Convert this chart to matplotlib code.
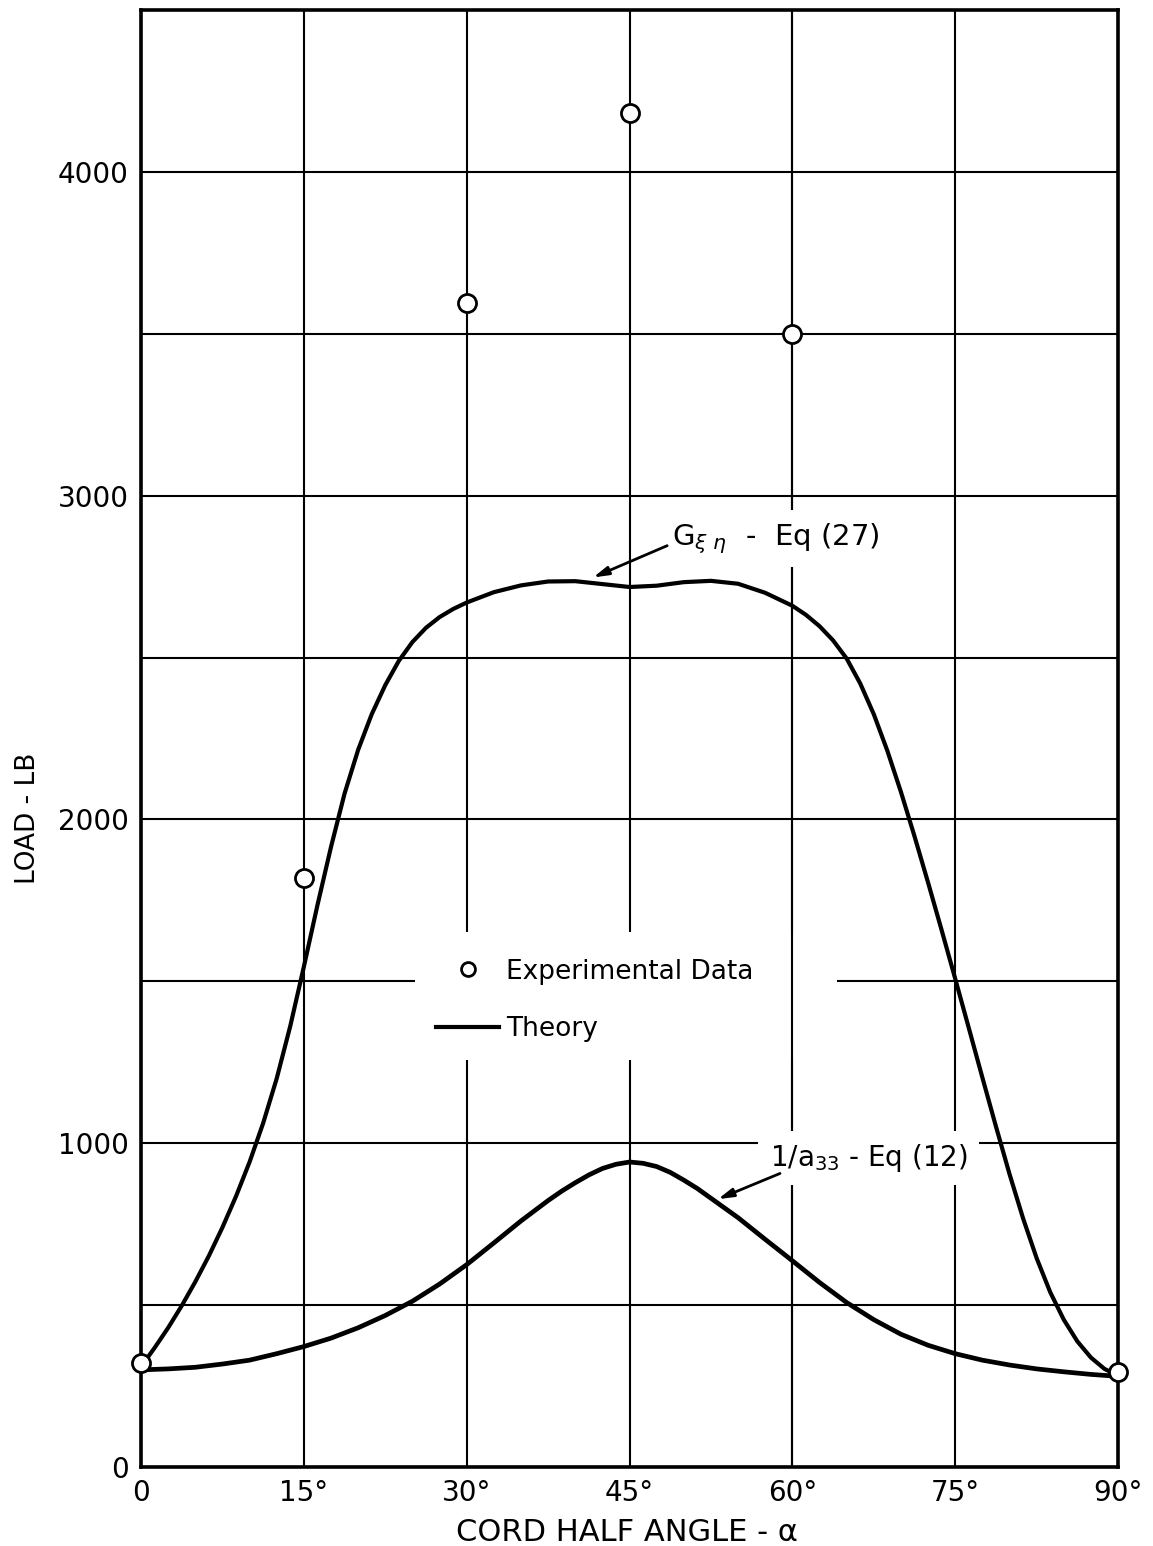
import matplotlib.pyplot as plt
from matplotlib.lines import Line2D
from matplotlib.patches import Rectangle

# G_xi_eta - Eq (27): cord half angle (deg) and load (lb)
g_angle = [0, 1.25, 2.5, 3.75, 5, 6.25, 7.5, 8.75, 10, 11.25, 12.5, 13.75, 15,
           16.25, 17.5, 18.75, 20, 21.25, 22.5, 23.75, 25, 26.25, 27.5, 28.75,
           30, 32.5, 35, 37.5, 40, 42.5, 45, 47.5, 50, 52.5, 55, 57.5, 60,
           61.25, 62.5, 63.75, 65, 66.25, 67.5, 68.75, 70, 71.25, 72.5, 73.75,
           75, 76.25, 77.5, 78.75, 80, 81.25, 82.5, 83.75, 85, 86.25, 87.5,
           88.75, 90]
g_load = [310, 368, 430, 498, 572, 652, 740, 836, 942, 1062, 1200, 1362, 1545,
          1735, 1915, 2080, 2215, 2325, 2415, 2490, 2548, 2592, 2625, 2650,
          2670, 2702, 2723, 2735, 2736, 2727, 2718, 2722, 2733, 2737, 2728,
          2700, 2660, 2632, 2597, 2553, 2497, 2420, 2325, 2212, 2085, 1948,
          1805, 1658, 1508, 1356, 1203, 1052, 905, 768, 645, 540, 455, 388,
          338, 303, 282]

# 1/a33 - Eq (12)
a_angle = [0, 2.5, 5, 7.5, 10, 12.5, 15, 17.5, 20, 22.5, 25, 27.5, 30, 32.5,
           35, 37.5, 38.75, 40, 41.25, 42.5, 43.75, 45, 46.25, 47.5, 48.75, 50,
           51.25, 52.5, 55, 57.5, 60, 62.5, 65, 67.5, 70, 72.5, 75, 77.5, 80,
           82.5, 85, 87.5, 90]
a_load = [300, 303, 308, 318, 330, 350, 372, 398, 430, 468, 512, 565, 625, 692,
          760, 823, 852, 878, 902, 922, 935, 942, 938, 928, 910, 886, 860, 830,
          770, 703, 637, 570, 508, 455, 410, 376, 350, 330, 315, 303, 294, 286,
          280]

# experimental data
exp_angle = [0, 15, 30, 45, 60, 90]
exp_load = [320, 1820, 3596, 4182, 3500, 293]

x_ticks = [0, 15, 30, 45, 60, 75, 90]
x_labels = ['0', '15°', '30°', '45°', '60°', '75°', '90°']
y_ticks = [0, 1000, 2000, 3000, 4000]
y_labels = ['0', '1000', '2000', '3000', '4000']

plt.rcParams['font.family'] = ['DejaVu Sans']
plt.rcParams['mathtext.fontset'] = 'dejavusans'

fig = plt.figure(figsize=(11.53, 15.46), dpi=100)
ax = fig.add_axes([0.1223, 0.0511, 0.8474, 0.9424])

ax.set_xlim(0, 90)
ax.set_ylim(0, 4500)
ax.set_xticks(x_ticks)
ax.set_xticklabels(x_labels)
ax.set_yticks(y_ticks)
ax.set_yticklabels(y_labels)
ax.set_yticks(range(500, 4500, 1000), minor=True)
ax.tick_params(which='both', length=0, labelsize=20)
ax.tick_params(axis='x', pad=9)
ax.tick_params(axis='y', pad=9)
ax.set_axisbelow(True)
ax.grid(True, which='both', color='black', linewidth=1.5)
for s in ax.spines.values():
    s.set_linewidth(2.6)

# blank area behind the legend (grid cut out), 60 deg line stays
ax.add_patch(Rectangle((25.2, 1256), 38.9, 395, facecolor='white',
                       edgecolor='none', zorder=1))
ax.axvline(60, color='black', linewidth=1.5, zorder=1.1)

ax.plot(g_angle, g_load, color='black', linewidth=3, zorder=3,
        solid_joinstyle='round')
ax.plot(a_angle, a_load, color='black', linewidth=3.4, zorder=3,
        solid_joinstyle='round')
ax.plot(exp_angle, exp_load, linestyle='none', marker='o', markersize=13,
        markerfacecolor='white', markeredgecolor='black', markeredgewidth=2,
        zorder=4, clip_on=False)

# curve labels with arrows
ax.text(48.9, 2868, r'G$_{\xi\ \eta}$  -  Eq (27)', fontsize=21, ha='left',
        va='center', zorder=2,
        bbox=dict(facecolor='white', edgecolor='none', pad=8))
ax.annotate('', xy=(41.4, 2744), xytext=(48.7, 2849),
            arrowprops=dict(arrowstyle='-|>,head_length=0.9,head_width=0.25',
                            color='black', lw=2), zorder=5)
ax.text(57.9, 955, r'1/a$_{33}$ - Eq (12)', fontsize=20,
        ha='left', va='center', zorder=2,
        bbox=dict(facecolor='white', edgecolor='none', pad=8))
ax.annotate('', xy=(52.9, 824), xytext=(59.1, 910),
            arrowprops=dict(arrowstyle='-|>,head_length=0.9,head_width=0.25',
                            color='black', lw=2), zorder=5)

handles = [Line2D([], [], linestyle='none', marker='o', markersize=10,
                  markerfacecolor='white', markeredgecolor='black',
                  markeredgewidth=2),
           Line2D([], [], color='black', linewidth=3)]
ax.legend(handles, ['Experimental Data', 'Theory'], loc='upper left',
          bbox_to_anchor=(0.302, 0.349), frameon=False, fontsize=19,
          handlelength=2.4, handletextpad=0.25, labelspacing=1.2,
          borderpad=0, borderaxespad=0)

ax.set_xlabel('CORD HALF ANGLE - α', fontsize=22)
ax.xaxis.set_label_coords(0.497, -0.035)
ax.set_ylabel('LOAD - LB', fontsize=19, va='center')
ax.yaxis.set_label_coords(-0.116, 0.445)

fig.savefig('out.png', dpi=100)
